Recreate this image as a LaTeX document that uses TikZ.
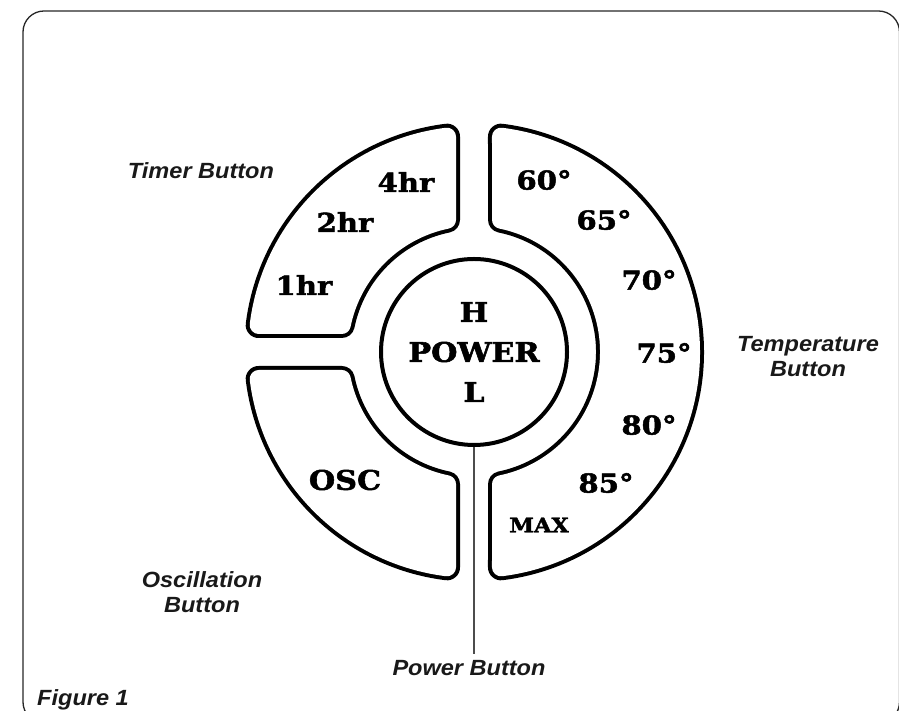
\documentclass[tikz,border=0pt]{standalone}
\usepackage{fontspec}
\newfontfamily\slab[FakeStretch=1.12,FakeBold=2]{DejaVu Serif Bold}
\newfontfamily\labf[FakeStretch=1.07]{Liberation Sans}
\begin{document}
\begin{tikzpicture}[x=1pt,y=1pt,
  lbl/.style={font=\labf\bfseries\itshape\fontsize{22}{25}\selectfont, text=black!90, align=center, inner sep=0pt},
  num/.style={font=\slab\fontsize{26}{30}\selectfont, inner sep=0pt},
  outerband/.style={fill=black, draw=black, line width=26pt, line join=round},
  innerband/.style={fill=white, draw=white, line width=18pt, line join=round}]
\clip (0,0) rectangle (899,711);
\draw[black!85, line width=1.3pt, rounded corners=21pt] (23,700) rectangle (899.5,-12);
\begin{scope}[shift={(474,359)}]
  % timer sector
  \path[outerband] (97.147:217) arc[start angle=97.147, end angle=172.853, radius=217]
     -- (168.463:135) arc[start angle=168.463, end angle=101.537, radius=135] -- cycle;
  \path[innerband] (97.147:217) arc[start angle=97.147, end angle=172.853, radius=217]
     -- (168.463:135) arc[start angle=168.463, end angle=101.537, radius=135] -- cycle;
  % oscillation sector
  \path[outerband] (187.147:217) arc[start angle=187.147, end angle=262.853, radius=217]
     -- (258.463:135) arc[start angle=258.463, end angle=191.537, radius=135] -- cycle;
  \path[innerband] (187.147:217) arc[start angle=187.147, end angle=262.853, radius=217]
     -- (258.463:135) arc[start angle=258.463, end angle=191.537, radius=135] -- cycle;
  % temperature sector
  \path[outerband] (-82.853:217) arc[start angle=-82.853, end angle=82.853, radius=217]
     -- (78.463:135) arc[start angle=78.463, end angle=-78.463, radius=135] -- cycle;
  \path[innerband] (-82.853:217) arc[start angle=-82.853, end angle=82.853, radius=217]
     -- (78.463:135) arc[start angle=78.463, end angle=-78.463, radius=135] -- cycle;
\end{scope}
% power button
\node[draw, circle, line width=4pt, minimum size=186pt, inner sep=0pt,
      font=\slab\fontsize{27}{40}\selectfont, align=center] (pw) at (474,359) {H\\POWER\\L};
% button labels
\node[num] (t4) at (406,529) {4hr};
\node[num] (t2) at (345,489) {2hr};
\node[num] (t1) at (304,426) {1hr};
\node[num] (d60) at (544,531) {60°};
\node[num] (d65) at (604,491) {65°};
\node[num] (d70) at (649,431) {70°};
\node[num] (d75) at (664,358) {75°};
\node[num] (d80) at (649,286) {80°};
\node[num] (d85) at (606,228) {85°};
\node[num, font=\slab\fontsize{20}{24}\selectfont] (mx) at (539,186) {MAX};
\node[num, font=\slab\fontsize{27}{30}\selectfont] (osc) at (345,231) {OSC};
% captions
\node[lbl] (tl) at (201,540) {Timer Button};
\node[lbl] (tpl) at (808,354) {Temperature\\Button};
\node[lbl] (ol) at (202,119) {Oscillation\\Button};
\node[lbl] (pbl) at (469,43) {Power Button};
\node[lbl, anchor=base west] (fig) at (37,5) {Figure 1};
\draw[black!70, line width=1.3pt, shorten >=6pt] (pw.south) -- (pw.south |- pbl.north);
\end{tikzpicture}
\end{document}
